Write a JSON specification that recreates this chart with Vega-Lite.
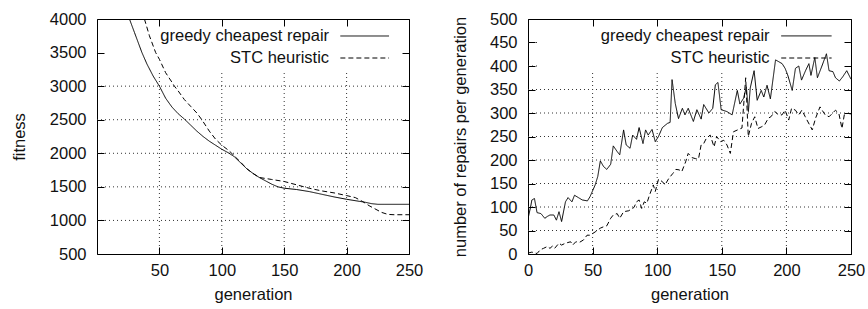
{
  "$schema": "https://vega.github.io/schema/vega-lite/v6.json",
  "padding": {"left": 10, "top": 10, "right": 5, "bottom": 0},
  "spacing": 27,
  "config": {
    "font": "Liberation Sans",
    "view": {"stroke": "black", "strokeWidth": 1},
    "axis": {
      "labelFontSize": 16.5, "titleFontSize": 16.5, "labelColor": "#111", "titleColor": "#111",
      "titleFontWeight": "normal", "domainColor": "black", "tickColor": "black",
      "labelFont": "Liberation Sans", "titleFont": "Liberation Sans", "format": "d",
      "labelFlush": false, "labelOverlap": false
    },
    "text": {"font": "Liberation Sans", "fontSize": 16.5, "color": "#111"}
  },
  "datasets": {
    "fit": [
      {"series": "greedy cheapest repair", "generation": 26, "value": 4000},
      {"series": "greedy cheapest repair", "generation": 30, "value": 3800},
      {"series": "greedy cheapest repair", "generation": 36, "value": 3500},
      {"series": "greedy cheapest repair", "generation": 40, "value": 3330},
      {"series": "greedy cheapest repair", "generation": 45, "value": 3150},
      {"series": "greedy cheapest repair", "generation": 50, "value": 3000},
      {"series": "greedy cheapest repair", "generation": 55, "value": 2820},
      {"series": "greedy cheapest repair", "generation": 60, "value": 2690},
      {"series": "greedy cheapest repair", "generation": 65, "value": 2590},
      {"series": "greedy cheapest repair", "generation": 70, "value": 2510},
      {"series": "greedy cheapest repair", "generation": 75, "value": 2420},
      {"series": "greedy cheapest repair", "generation": 80, "value": 2330},
      {"series": "greedy cheapest repair", "generation": 85, "value": 2250},
      {"series": "greedy cheapest repair", "generation": 90, "value": 2180},
      {"series": "greedy cheapest repair", "generation": 95, "value": 2120},
      {"series": "greedy cheapest repair", "generation": 100, "value": 2060},
      {"series": "greedy cheapest repair", "generation": 105, "value": 2010},
      {"series": "greedy cheapest repair", "generation": 110, "value": 1950},
      {"series": "greedy cheapest repair", "generation": 115, "value": 1860},
      {"series": "greedy cheapest repair", "generation": 120, "value": 1770},
      {"series": "greedy cheapest repair", "generation": 125, "value": 1700},
      {"series": "greedy cheapest repair", "generation": 130, "value": 1640},
      {"series": "greedy cheapest repair", "generation": 135, "value": 1590},
      {"series": "greedy cheapest repair", "generation": 140, "value": 1540},
      {"series": "greedy cheapest repair", "generation": 145, "value": 1500},
      {"series": "greedy cheapest repair", "generation": 150, "value": 1480},
      {"series": "greedy cheapest repair", "generation": 160, "value": 1460},
      {"series": "greedy cheapest repair", "generation": 170, "value": 1430},
      {"series": "greedy cheapest repair", "generation": 180, "value": 1390},
      {"series": "greedy cheapest repair", "generation": 190, "value": 1350},
      {"series": "greedy cheapest repair", "generation": 200, "value": 1315},
      {"series": "greedy cheapest repair", "generation": 210, "value": 1285},
      {"series": "greedy cheapest repair", "generation": 215, "value": 1270},
      {"series": "greedy cheapest repair", "generation": 220, "value": 1250},
      {"series": "greedy cheapest repair", "generation": 225, "value": 1240},
      {"series": "greedy cheapest repair", "generation": 230, "value": 1240},
      {"series": "greedy cheapest repair", "generation": 250, "value": 1240},
      {"series": "STC heuristic", "generation": 38, "value": 4000},
      {"series": "STC heuristic", "generation": 42, "value": 3750},
      {"series": "STC heuristic", "generation": 47, "value": 3500},
      {"series": "STC heuristic", "generation": 50, "value": 3400},
      {"series": "STC heuristic", "generation": 55, "value": 3200},
      {"series": "STC heuristic", "generation": 60, "value": 3060},
      {"series": "STC heuristic", "generation": 62, "value": 3000},
      {"series": "STC heuristic", "generation": 65, "value": 2930},
      {"series": "STC heuristic", "generation": 70, "value": 2800},
      {"series": "STC heuristic", "generation": 75, "value": 2700},
      {"series": "STC heuristic", "generation": 80, "value": 2600},
      {"series": "STC heuristic", "generation": 84, "value": 2500},
      {"series": "STC heuristic", "generation": 90, "value": 2330},
      {"series": "STC heuristic", "generation": 95, "value": 2210},
      {"series": "STC heuristic", "generation": 100, "value": 2120},
      {"series": "STC heuristic", "generation": 105, "value": 2050},
      {"series": "STC heuristic", "generation": 108, "value": 2000},
      {"series": "STC heuristic", "generation": 110, "value": 1960},
      {"series": "STC heuristic", "generation": 115, "value": 1870},
      {"series": "STC heuristic", "generation": 120, "value": 1770},
      {"series": "STC heuristic", "generation": 125, "value": 1700},
      {"series": "STC heuristic", "generation": 130, "value": 1640},
      {"series": "STC heuristic", "generation": 135, "value": 1625},
      {"series": "STC heuristic", "generation": 140, "value": 1610},
      {"series": "STC heuristic", "generation": 150, "value": 1580},
      {"series": "STC heuristic", "generation": 160, "value": 1530},
      {"series": "STC heuristic", "generation": 170, "value": 1480},
      {"series": "STC heuristic", "generation": 180, "value": 1440},
      {"series": "STC heuristic", "generation": 190, "value": 1410},
      {"series": "STC heuristic", "generation": 200, "value": 1370},
      {"series": "STC heuristic", "generation": 207, "value": 1340},
      {"series": "STC heuristic", "generation": 213, "value": 1280},
      {"series": "STC heuristic", "generation": 218, "value": 1220},
      {"series": "STC heuristic", "generation": 222, "value": 1180},
      {"series": "STC heuristic", "generation": 228, "value": 1120},
      {"series": "STC heuristic", "generation": 233, "value": 1090},
      {"series": "STC heuristic", "generation": 238, "value": 1085},
      {"series": "STC heuristic", "generation": 250, "value": 1085}
    ],
    "rep": [
      {"series": "greedy cheapest repair", "generation": 0, "value": 75},
      {"series": "greedy cheapest repair", "generation": 2, "value": 100},
      {"series": "greedy cheapest repair", "generation": 3, "value": 115},
      {"series": "greedy cheapest repair", "generation": 5, "value": 118},
      {"series": "greedy cheapest repair", "generation": 7, "value": 88},
      {"series": "greedy cheapest repair", "generation": 10, "value": 86},
      {"series": "greedy cheapest repair", "generation": 13, "value": 76},
      {"series": "greedy cheapest repair", "generation": 15, "value": 80},
      {"series": "greedy cheapest repair", "generation": 17, "value": 83},
      {"series": "greedy cheapest repair", "generation": 20, "value": 83},
      {"series": "greedy cheapest repair", "generation": 22, "value": 72},
      {"series": "greedy cheapest repair", "generation": 24, "value": 90},
      {"series": "greedy cheapest repair", "generation": 26, "value": 69},
      {"series": "greedy cheapest repair", "generation": 29, "value": 111},
      {"series": "greedy cheapest repair", "generation": 31, "value": 120},
      {"series": "greedy cheapest repair", "generation": 34, "value": 111},
      {"series": "greedy cheapest repair", "generation": 36, "value": 125},
      {"series": "greedy cheapest repair", "generation": 39, "value": 120},
      {"series": "greedy cheapest repair", "generation": 42, "value": 115},
      {"series": "greedy cheapest repair", "generation": 46, "value": 113},
      {"series": "greedy cheapest repair", "generation": 48, "value": 122},
      {"series": "greedy cheapest repair", "generation": 52, "value": 147},
      {"series": "greedy cheapest repair", "generation": 54, "value": 165},
      {"series": "greedy cheapest repair", "generation": 56, "value": 198},
      {"series": "greedy cheapest repair", "generation": 58.5, "value": 186},
      {"series": "greedy cheapest repair", "generation": 61, "value": 180},
      {"series": "greedy cheapest repair", "generation": 64, "value": 191},
      {"series": "greedy cheapest repair", "generation": 66, "value": 230},
      {"series": "greedy cheapest repair", "generation": 69, "value": 218},
      {"series": "greedy cheapest repair", "generation": 71, "value": 211},
      {"series": "greedy cheapest repair", "generation": 74, "value": 264},
      {"series": "greedy cheapest repair", "generation": 76, "value": 232},
      {"series": "greedy cheapest repair", "generation": 79, "value": 225},
      {"series": "greedy cheapest repair", "generation": 81, "value": 253},
      {"series": "greedy cheapest repair", "generation": 84, "value": 244},
      {"series": "greedy cheapest repair", "generation": 86, "value": 269},
      {"series": "greedy cheapest repair", "generation": 89, "value": 235},
      {"series": "greedy cheapest repair", "generation": 91, "value": 264},
      {"series": "greedy cheapest repair", "generation": 93, "value": 253},
      {"series": "greedy cheapest repair", "generation": 96, "value": 265},
      {"series": "greedy cheapest repair", "generation": 98.5, "value": 239},
      {"series": "greedy cheapest repair", "generation": 101, "value": 250},
      {"series": "greedy cheapest repair", "generation": 104, "value": 269},
      {"series": "greedy cheapest repair", "generation": 108, "value": 278},
      {"series": "greedy cheapest repair", "generation": 110, "value": 280},
      {"series": "greedy cheapest repair", "generation": 111.5, "value": 371},
      {"series": "greedy cheapest repair", "generation": 114, "value": 320},
      {"series": "greedy cheapest repair", "generation": 116.5, "value": 288},
      {"series": "greedy cheapest repair", "generation": 119.5, "value": 310},
      {"series": "greedy cheapest repair", "generation": 121.5, "value": 296},
      {"series": "greedy cheapest repair", "generation": 124, "value": 310},
      {"series": "greedy cheapest repair", "generation": 128, "value": 282},
      {"series": "greedy cheapest repair", "generation": 130.7, "value": 307},
      {"series": "greedy cheapest repair", "generation": 134, "value": 287},
      {"series": "greedy cheapest repair", "generation": 136, "value": 318},
      {"series": "greedy cheapest repair", "generation": 140, "value": 300},
      {"series": "greedy cheapest repair", "generation": 143, "value": 310},
      {"series": "greedy cheapest repair", "generation": 145, "value": 360},
      {"series": "greedy cheapest repair", "generation": 147, "value": 365},
      {"series": "greedy cheapest repair", "generation": 149.5, "value": 307},
      {"series": "greedy cheapest repair", "generation": 154, "value": 303},
      {"series": "greedy cheapest repair", "generation": 158, "value": 296},
      {"series": "greedy cheapest repair", "generation": 162, "value": 348},
      {"series": "greedy cheapest repair", "generation": 164, "value": 319},
      {"series": "greedy cheapest repair", "generation": 167, "value": 332},
      {"series": "greedy cheapest repair", "generation": 169, "value": 356},
      {"series": "greedy cheapest repair", "generation": 170.6, "value": 303},
      {"series": "greedy cheapest repair", "generation": 172, "value": 353},
      {"series": "greedy cheapest repair", "generation": 175, "value": 390},
      {"series": "greedy cheapest repair", "generation": 177.4, "value": 327},
      {"series": "greedy cheapest repair", "generation": 180.5, "value": 348},
      {"series": "greedy cheapest repair", "generation": 182.5, "value": 334},
      {"series": "greedy cheapest repair", "generation": 185, "value": 359},
      {"series": "greedy cheapest repair", "generation": 187.6, "value": 330},
      {"series": "greedy cheapest repair", "generation": 191.6, "value": 413},
      {"series": "greedy cheapest repair", "generation": 196.7, "value": 405},
      {"series": "greedy cheapest repair", "generation": 199, "value": 395},
      {"series": "greedy cheapest repair", "generation": 201, "value": 381},
      {"series": "greedy cheapest repair", "generation": 204.5, "value": 348},
      {"series": "greedy cheapest repair", "generation": 207, "value": 395},
      {"series": "greedy cheapest repair", "generation": 209.6, "value": 400},
      {"series": "greedy cheapest repair", "generation": 211.7, "value": 370},
      {"series": "greedy cheapest repair", "generation": 214.8, "value": 390},
      {"series": "greedy cheapest repair", "generation": 217.4, "value": 405},
      {"series": "greedy cheapest repair", "generation": 219, "value": 380},
      {"series": "greedy cheapest repair", "generation": 222, "value": 418},
      {"series": "greedy cheapest repair", "generation": 224, "value": 375},
      {"series": "greedy cheapest repair", "generation": 227.5, "value": 400},
      {"series": "greedy cheapest repair", "generation": 231, "value": 426},
      {"series": "greedy cheapest repair", "generation": 233, "value": 390},
      {"series": "greedy cheapest repair", "generation": 236, "value": 388},
      {"series": "greedy cheapest repair", "generation": 238, "value": 375},
      {"series": "greedy cheapest repair", "generation": 241, "value": 368},
      {"series": "greedy cheapest repair", "generation": 243.6, "value": 377},
      {"series": "greedy cheapest repair", "generation": 246.7, "value": 390},
      {"series": "greedy cheapest repair", "generation": 250, "value": 372},
      {"series": "STC heuristic", "generation": 0, "value": 2},
      {"series": "STC heuristic", "generation": 3, "value": 4},
      {"series": "STC heuristic", "generation": 7, "value": 1},
      {"series": "STC heuristic", "generation": 9.5, "value": 9},
      {"series": "STC heuristic", "generation": 12, "value": 12},
      {"series": "STC heuristic", "generation": 15, "value": 16},
      {"series": "STC heuristic", "generation": 17, "value": 12},
      {"series": "STC heuristic", "generation": 19, "value": 17},
      {"series": "STC heuristic", "generation": 20.6, "value": 12},
      {"series": "STC heuristic", "generation": 24, "value": 23},
      {"series": "STC heuristic", "generation": 26, "value": 19},
      {"series": "STC heuristic", "generation": 29, "value": 23},
      {"series": "STC heuristic", "generation": 33, "value": 26},
      {"series": "STC heuristic", "generation": 34.6, "value": 19},
      {"series": "STC heuristic", "generation": 37, "value": 26},
      {"series": "STC heuristic", "generation": 40, "value": 25},
      {"series": "STC heuristic", "generation": 43, "value": 30},
      {"series": "STC heuristic", "generation": 45.7, "value": 40},
      {"series": "STC heuristic", "generation": 48, "value": 40},
      {"series": "STC heuristic", "generation": 52, "value": 47},
      {"series": "STC heuristic", "generation": 56, "value": 55},
      {"series": "STC heuristic", "generation": 58.5, "value": 58},
      {"series": "STC heuristic", "generation": 61, "value": 60},
      {"series": "STC heuristic", "generation": 64, "value": 76},
      {"series": "STC heuristic", "generation": 66, "value": 83},
      {"series": "STC heuristic", "generation": 69, "value": 86},
      {"series": "STC heuristic", "generation": 71, "value": 76},
      {"series": "STC heuristic", "generation": 74, "value": 90},
      {"series": "STC heuristic", "generation": 78, "value": 92},
      {"series": "STC heuristic", "generation": 82, "value": 99},
      {"series": "STC heuristic", "generation": 84, "value": 111},
      {"series": "STC heuristic", "generation": 86, "value": 115},
      {"series": "STC heuristic", "generation": 88, "value": 97},
      {"series": "STC heuristic", "generation": 90, "value": 111},
      {"series": "STC heuristic", "generation": 92, "value": 108},
      {"series": "STC heuristic", "generation": 94, "value": 125},
      {"series": "STC heuristic", "generation": 97, "value": 147},
      {"series": "STC heuristic", "generation": 98.5, "value": 133},
      {"series": "STC heuristic", "generation": 101, "value": 159},
      {"series": "STC heuristic", "generation": 104, "value": 154},
      {"series": "STC heuristic", "generation": 106, "value": 147},
      {"series": "STC heuristic", "generation": 109, "value": 161},
      {"series": "STC heuristic", "generation": 112, "value": 171},
      {"series": "STC heuristic", "generation": 114.5, "value": 180},
      {"series": "STC heuristic", "generation": 117, "value": 179},
      {"series": "STC heuristic", "generation": 119, "value": 175},
      {"series": "STC heuristic", "generation": 122, "value": 196},
      {"series": "STC heuristic", "generation": 124, "value": 214},
      {"series": "STC heuristic", "generation": 127, "value": 205},
      {"series": "STC heuristic", "generation": 129.5, "value": 203},
      {"series": "STC heuristic", "generation": 132, "value": 203},
      {"series": "STC heuristic", "generation": 134, "value": 232},
      {"series": "STC heuristic", "generation": 136, "value": 235},
      {"series": "STC heuristic", "generation": 138, "value": 246},
      {"series": "STC heuristic", "generation": 141, "value": 253},
      {"series": "STC heuristic", "generation": 144, "value": 228},
      {"series": "STC heuristic", "generation": 146, "value": 250},
      {"series": "STC heuristic", "generation": 149, "value": 239},
      {"series": "STC heuristic", "generation": 151.5, "value": 242},
      {"series": "STC heuristic", "generation": 154, "value": 232},
      {"series": "STC heuristic", "generation": 156.6, "value": 214},
      {"series": "STC heuristic", "generation": 159, "value": 260},
      {"series": "STC heuristic", "generation": 163, "value": 265},
      {"series": "STC heuristic", "generation": 165.6, "value": 268},
      {"series": "STC heuristic", "generation": 168.5, "value": 375},
      {"series": "STC heuristic", "generation": 170.5, "value": 250},
      {"series": "STC heuristic", "generation": 173, "value": 278},
      {"series": "STC heuristic", "generation": 175.5, "value": 292},
      {"series": "STC heuristic", "generation": 178, "value": 267},
      {"series": "STC heuristic", "generation": 181, "value": 271},
      {"series": "STC heuristic", "generation": 183, "value": 274},
      {"series": "STC heuristic", "generation": 186, "value": 289},
      {"series": "STC heuristic", "generation": 188, "value": 292},
      {"series": "STC heuristic", "generation": 191, "value": 303},
      {"series": "STC heuristic", "generation": 194, "value": 296},
      {"series": "STC heuristic", "generation": 196.6, "value": 296},
      {"series": "STC heuristic", "generation": 199, "value": 306},
      {"series": "STC heuristic", "generation": 201.8, "value": 285},
      {"series": "STC heuristic", "generation": 204, "value": 310},
      {"series": "STC heuristic", "generation": 207, "value": 306},
      {"series": "STC heuristic", "generation": 209.5, "value": 296},
      {"series": "STC heuristic", "generation": 212, "value": 306},
      {"series": "STC heuristic", "generation": 214.6, "value": 292},
      {"series": "STC heuristic", "generation": 220, "value": 264},
      {"series": "STC heuristic", "generation": 222.6, "value": 289},
      {"series": "STC heuristic", "generation": 226, "value": 313},
      {"series": "STC heuristic", "generation": 230, "value": 296},
      {"series": "STC heuristic", "generation": 233, "value": 292},
      {"series": "STC heuristic", "generation": 238, "value": 306},
      {"series": "STC heuristic", "generation": 240.6, "value": 299},
      {"series": "STC heuristic", "generation": 243, "value": 267},
      {"series": "STC heuristic", "generation": 245, "value": 299},
      {"series": "STC heuristic", "generation": 248, "value": 299},
      {"series": "STC heuristic", "generation": 250, "value": 298}
    ],
    "keyL": [
      {"series": "greedy cheapest repair", "x1": 195, "x2": 234, "tx": 186, "y": 3747},
      {"series": "STC heuristic", "x1": 195, "x2": 234, "tx": 186, "y": 3419}
    ],
    "keyR": [
      {"series": "greedy cheapest repair", "x1": 196, "x2": 235, "tx": 187, "y": 464},
      {"series": "STC heuristic", "x1": 196, "x2": 235, "tx": 187, "y": 417}
    ],
    "gridL": [
      {"x1": 0, "x2": 250, "y1": 1000, "y2": 1000},
      {"x1": 0, "x2": 250, "y1": 1500, "y2": 1500},
      {"x1": 0, "x2": 250, "y1": 2000, "y2": 2000},
      {"x1": 0, "x2": 250, "y1": 2500, "y2": 2500},
      {"x1": 0, "x2": 250, "y1": 3000, "y2": 3000},
      {"x1": 50, "x2": 50, "y1": 500, "y2": 3240},
      {"x1": 100, "x2": 100, "y1": 500, "y2": 3240},
      {"x1": 150, "x2": 150, "y1": 500, "y2": 3240},
      {"x1": 200, "x2": 200, "y1": 500, "y2": 3240}
    ],
    "gridR": [
      {"x1": 0, "x2": 250, "y1": 50, "y2": 50},
      {"x1": 0, "x2": 250, "y1": 100, "y2": 100},
      {"x1": 0, "x2": 250, "y1": 150, "y2": 150},
      {"x1": 0, "x2": 250, "y1": 200, "y2": 200},
      {"x1": 0, "x2": 250, "y1": 250, "y2": 250},
      {"x1": 0, "x2": 250, "y1": 300, "y2": 300},
      {"x1": 0, "x2": 250, "y1": 350, "y2": 350},
      {"x1": 0, "x2": 8, "y1": 400, "y2": 400},
      {"x1": 0, "x2": 8, "y1": 450, "y2": 450},
      {"x1": 50, "x2": 50, "y1": 0, "y2": 388},
      {"x1": 100, "x2": 100, "y1": 0, "y2": 388},
      {"x1": 150, "x2": 150, "y1": 0, "y2": 388},
      {"x1": 200, "x2": 200, "y1": 0, "y2": 388}
    ]
  },
  "hconcat": [
    {
      "width": 312, "height": 235,
      "resolve": {"axis": {"x": "independent", "y": "independent"}},
      "layer": [
        {
          "data": {"name": "gridL"},
          "mark": {"type": "rule", "color": "#333", "strokeWidth": 1, "strokeDash": [1, 3]},
          "encoding": {
            "x": {"field": "x1", "type": "quantitative", "scale": {"domain": [0, 250], "nice": false, "zero": false},
                  "axis": {"orient": "top", "labels": false, "title": null, "grid": false, "domain": false, "tickSize": -7, "values": [50, 100, 150, 200, 250], "zindex": 1}},
            "x2": {"field": "x2"},
            "y": {"field": "y1", "type": "quantitative", "scale": {"domain": [500, 4000], "nice": false, "zero": false},
                  "axis": {"orient": "right", "labels": false, "title": null, "grid": false, "domain": false, "tickSize": -7, "values": [500, 1000, 1500, 2000, 2500, 3000, 3500, 4000], "zindex": 1}},
            "y2": {"field": "y2"}
          }
        },
        {
          "data": {"name": "fit"},
          "mark": {"type": "line", "color": "black", "strokeWidth": 1, "clip": true},
          "encoding": {
            "x": {"field": "generation", "type": "quantitative", "scale": {"domain": [0, 250], "nice": false, "zero": false},
                  "axis": {"orient": "bottom", "title": "generation", "grid": false, "domain": false, "tickSize": -7, "labelPadding": 15, "titlePadding": 8, "values": [50, 100, 150, 200, 250], "zindex": 1}},
            "y": {"field": "value", "type": "quantitative", "scale": {"domain": [500, 4000], "nice": false, "zero": false},
                  "axis": {"orient": "left", "title": "fitness", "grid": false, "domain": false, "tickSize": -7, "labelPadding": 18, "titlePadding": 22, "values": [500, 1000, 1500, 2000, 2500, 3000, 3500, 4000], "zindex": 1}},
            "strokeDash": {"field": "series", "type": "nominal", "scale": {"domain": ["greedy cheapest repair", "STC heuristic"], "range": [[1, 0], [5, 3]]}, "legend": null}
          }
        },
        {
          "data": {"name": "keyL"},
          "mark": {"type": "rule", "color": "black", "strokeWidth": 1},
          "encoding": {
            "x": {"field": "x1", "type": "quantitative", "axis": null},
            "x2": {"field": "x2"},
            "y": {"field": "y", "type": "quantitative", "axis": null},
            "strokeDash": {"field": "series", "type": "nominal", "scale": {"domain": ["greedy cheapest repair", "STC heuristic"], "range": [[1, 0], [5, 3]]}, "legend": null}
          }
        },
        {
          "data": {"name": "keyL"},
          "mark": {"type": "text", "align": "right", "baseline": "middle"},
          "encoding": {
            "x": {"field": "tx", "type": "quantitative", "axis": null},
            "y": {"field": "y", "type": "quantitative", "axis": null},
            "text": {"field": "series"}
          }
        }
      ]
    },
    {
      "width": 323, "height": 235,
      "resolve": {"axis": {"x": "independent", "y": "independent"}},
      "layer": [
        {
          "data": {"name": "gridR"},
          "mark": {"type": "rule", "color": "#333", "strokeWidth": 1, "strokeDash": [1, 3]},
          "encoding": {
            "x": {"field": "x1", "type": "quantitative", "scale": {"domain": [0, 250], "nice": false},
                  "axis": {"orient": "top", "labels": false, "title": null, "grid": false, "domain": false, "tickSize": -7, "values": [0, 50, 100, 150, 200, 250], "zindex": 1}},
            "x2": {"field": "x2"},
            "y": {"field": "y1", "type": "quantitative", "scale": {"domain": [0, 500], "nice": false},
                  "axis": {"orient": "right", "labels": false, "title": null, "grid": false, "domain": false, "tickSize": -7, "values": [0, 50, 100, 150, 200, 250, 300, 350, 400, 450, 500], "zindex": 1}},
            "y2": {"field": "y2"}
          }
        },
        {
          "data": {"name": "rep"},
          "mark": {"type": "line", "color": "black", "strokeWidth": 1, "clip": true},
          "encoding": {
            "x": {"field": "generation", "type": "quantitative", "scale": {"domain": [0, 250], "nice": false},
                  "axis": {"orient": "bottom", "title": "generation", "grid": false, "domain": false, "tickSize": -7, "labelPadding": 15, "titlePadding": 8, "values": [0, 50, 100, 150, 200, 250], "zindex": 1}},
            "y": {"field": "value", "type": "quantitative", "scale": {"domain": [0, 500], "nice": false},
                  "axis": {"orient": "left", "title": "number of repairs per generation", "grid": false, "domain": false, "tickSize": -7, "labelPadding": 18, "titlePadding": 21, "values": [0, 50, 100, 150, 200, 250, 300, 350, 400, 450, 500], "zindex": 1}},
            "strokeDash": {"field": "series", "type": "nominal", "scale": {"domain": ["greedy cheapest repair", "STC heuristic"], "range": [[1, 0], [5, 3]]}, "legend": null}
          }
        },
        {
          "data": {"name": "keyR"},
          "mark": {"type": "rule", "color": "black", "strokeWidth": 1},
          "encoding": {
            "x": {"field": "x1", "type": "quantitative", "axis": null},
            "x2": {"field": "x2"},
            "y": {"field": "y", "type": "quantitative", "axis": null},
            "strokeDash": {"field": "series", "type": "nominal", "scale": {"domain": ["greedy cheapest repair", "STC heuristic"], "range": [[1, 0], [5, 3]]}, "legend": null}
          }
        },
        {
          "data": {"name": "keyR"},
          "mark": {"type": "text", "align": "right", "baseline": "middle"},
          "encoding": {
            "x": {"field": "tx", "type": "quantitative", "axis": null},
            "y": {"field": "y", "type": "quantitative", "axis": null},
            "text": {"field": "series"}
          }
        }
      ]
    }
  ]
}
